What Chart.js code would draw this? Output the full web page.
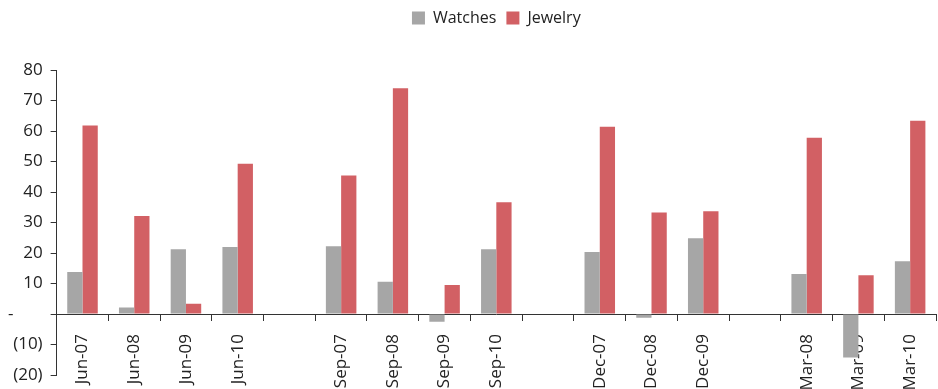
<!DOCTYPE html>
<html>
<head>
<meta charset="utf-8">
<title>Watches vs Jewelry</title>
<script src="https://cdn.jsdelivr.net/npm/chart.js@4/dist/chart.umd.min.js"></script>
<style>
  body { margin: 0; background: #fff; }
  #wrap { width: 938px; height: 389px; }
</style>
</head>
<body>
<div id="wrap"><canvas id="salesChart" width="938" height="389"></canvas></div>
<script>
// quarters, with empty slots between the groups
const categories = ['Jun-07', 'Jun-08', 'Jun-09', 'Jun-10', '',
  'Sep-07', 'Sep-08', 'Sep-09', 'Sep-10', '',
  'Dec-07', 'Dec-08', 'Dec-09', '',
  'Mar-08', 'Mar-09', 'Mar-10'];
const watches = [13.8, 2.1, 21.2, 22.0, null,
  22.2, 10.6, -2.5, 21.2, null,
  20.3, -1.2, 24.8, null,
  13.1, -14.3, 17.3];
const jewelry = [61.8, 32.1, 3.4, 49.3, null,
  45.4, 74.0, 9.5, 36.6, null,
  61.4, 33.3, 33.7, null,
  57.8, 12.7, 63.4];
const yTicks = [80, 70, 60, 50, 40, 30, 20, 10, 0, -10, -20];

// extra room under the legend
const legendSpacer = {
  id: 'legendSpacer',
  beforeInit(chart) {
    const fit = chart.legend.fit;
    chart.legend.fit = function () {
      fit.bind(chart.legend)();
      this.height += 34;
    };
  }
};

class GrowthChart {
  constructor() {
    this.canvas = document.getElementById('salesChart');
    this.font = 'Open Sans';
    this.draw();
  }
  // accounting style labels: 0 -> "-", negatives in brackets
  formatTick(v) {
    if (v === 0) return '-\u2007\u2007\u2007';
    if (v < 0) return '(' + (-v) + ')';
    return String(v);
  }
  draw() {
    const ctx = this.canvas.getContext('2d');
    const self = this;
    new Chart(ctx, {
      type: 'bar',
      data: {
        labels: categories,
        datasets: [{
          label: 'Watches',
          data: watches,
          backgroundColor: '#a6a6a6',
          categoryPercentage: 0.59,
          barPercentage: 1.0
        }, {
          label: 'Jewelry',
          data: jewelry,
          backgroundColor: '#d26064',
          categoryPercentage: 0.59,
          barPercentage: 1.0
        }]
      },
      plugins: [legendSpacer],
      options: {
        responsive: false,
        animation: false,
        layout: { padding: { top: 0, right: 2, bottom: 14, left: 0 } },
        scales: {
          x: {
            position: { y: 0 },
            afterFit: (scale) => { scale.paddingLeft = 0; scale.paddingRight = 0; },
            grid: { drawOnChartArea: false, drawTicks: true, tickLength: 6, color: '#333', offset: true },
            border: { color: '#333', width: 1 },
            ticks: {
              color: '#222',
              font: { family: this.font, size: 17 },
              minRotation: 90,
              maxRotation: 90,
              autoSkip: false,
              padding: 14
            }
          },
          y: {
            min: -20,
            max: 80,
            afterBuildTicks: (scale) => { scale.ticks = yTicks.map(v => ({ value: v })); },
            afterFit: (scale) => { scale.paddingTop = 0; scale.paddingBottom = 0; },
            grid: { drawOnChartArea: false, drawTicks: true, tickLength: 6, color: '#333' },
            border: { color: '#333', width: 1 },
            ticks: {
              color: '#222',
              font: { family: this.font, size: 17 },
              padding: 8,
              callback: (v) => self.formatTick(v)
            }
          }
        },
        plugins: {
          legend: {
            position: 'top',
            fullSize: false,
            labels: {
              color: '#222',
              font: { family: this.font, size: 16 },
              boxWidth: 13,
              boxHeight: 13,
              padding: 10
            }
          },
          tooltip: { enabled: false }
        }
      }
    });
  }
}
document.addEventListener('DOMContentLoaded', function () {
  const chart = new GrowthChart();
});
</script>
</body>
</html>
